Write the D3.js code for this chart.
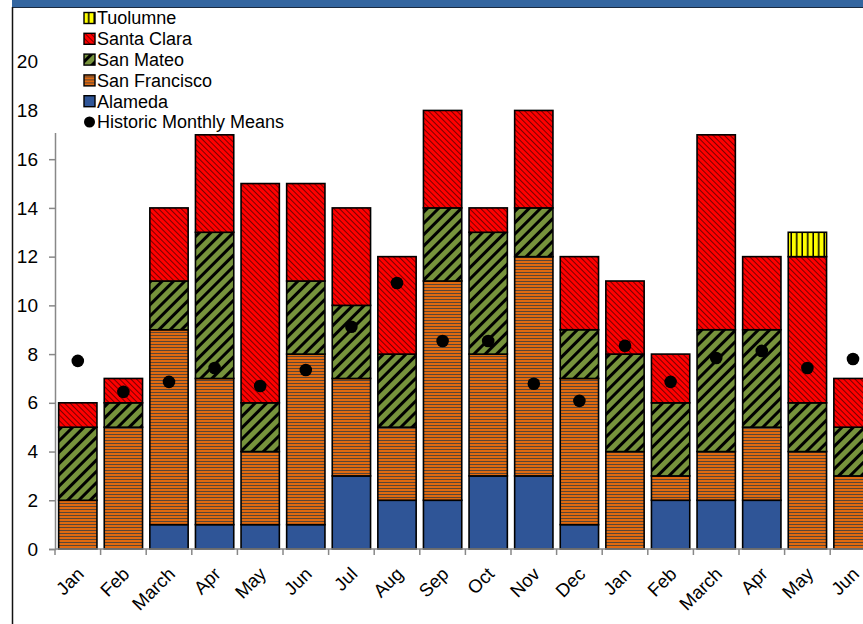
<!DOCTYPE html>
<html>
<head>
<meta charset="utf-8">
<script src="https://cdn.jsdelivr.net/npm/d3@7"></script>
<style>
  body { margin: 0; background: #fff; }
  svg { display: block; font-family: "Liberation Sans", Arial, sans-serif; }
</style>
</head>
<body>
<svg id="chart" width="863" height="624"></svg>
<script>
var months = ['Jan','Feb','March','Apr','May','Jun','Jul','Aug','Sep','Oct','Nov','Dec',
              'Jan','Feb','March','Apr','May','Jun'];
var counties = ['Alameda','San Francisco','San Mateo','Santa Clara','Tuolumne'];
var alameda      = [0,0,1,1,1,1,3,2,2,3,3,1,0,2,2,2,0,0];
var sanFrancisco = [2,5,8,6,3,7,4,3,9,5,9,6,4,1,2,3,4,3];
var sanMateo     = [3,1,2,6,2,3,3,3,3,5,2,2,4,3,5,4,2,2];
var santaClara   = [1,1,3,4,9,4,4,4,4,1,4,3,3,2,8,3,6,2];
var tuolumne     = [0,0,0,0,0,0,0,0,0,0,0,0,0,0,0,0,1,0];
var historicMeans = [7.72,6.45,6.86,7.43,6.69,7.35,9.12,10.92,8.54,8.54,6.78,6.08,
                     8.34,6.86,7.84,8.13,7.43,7.8];
var yTicks = [0,2,4,6,8,10,12,14,16,18,20];

var svg = d3.select('#chart');
var W = 863, H = 624;

// patterns
var defs = svg.append('defs');
var p;
p = defs.append('pattern').attr('id','pSF').attr('patternUnits','userSpaceOnUse')
  .attr('width',6).attr('height',3);
p.append('rect').attr('width',6).attr('height',3).attr('fill','#e06a10');
p.append('rect').attr('y',2).attr('width',6).attr('height',1).attr('fill','#5b4636');

p = defs.append('pattern').attr('id','pSM').attr('patternUnits','userSpaceOnUse')
  .attr('width',8).attr('height',8).attr('patternTransform','rotate(45)');
p.append('rect').attr('width',8).attr('height',8).attr('fill','#77933c');
p.append('rect').attr('width',3).attr('height',8).attr('fill','#000');

p = defs.append('pattern').attr('id','pSC').attr('patternUnits','userSpaceOnUse')
  .attr('width',4).attr('height',4).attr('patternTransform','rotate(-45)');
p.append('rect').attr('width',4).attr('height',4).attr('fill','#ff0000');
p.append('rect').attr('width',1).attr('height',4).attr('fill','#7a0000');

p = defs.append('pattern').attr('id','pT').attr('patternUnits','userSpaceOnUse')
  .attr('width',5.5).attr('height',6);
p.append('rect').attr('width',5.5).attr('height',6).attr('fill','#ffff00');
p.append('rect').attr('x',4).attr('width',1.5).attr('height',6).attr('fill','#000');

var fills = ['#2f5597','url(#pSF)','url(#pSM)','url(#pSC)','url(#pT)'];

// frame
svg.append('rect').attr('x',12).attr('y',0).attr('width',W-12).attr('height',7).attr('fill','#3466a0');
svg.append('line').attr('x1',12).attr('x2',W).attr('y1',7.5).attr('y2',7.5).attr('stroke','#1a2a40').attr('stroke-width',1);
svg.append('line').attr('x1',12.5).attr('x2',12.5).attr('y1',7).attr('y2',H).attr('stroke','#111').attr('stroke-width',1.5);

var x = d3.scaleBand().domain(d3.range(months.length)).range([55, 55 + 45.6*18]).paddingInner(0.16).paddingOuter(0.08);
var y = d3.scaleLinear().domain([0,22]).range([549, 13]);

// y axis
var yAxis = d3.axisLeft(y).tickValues(yTicks).tickSize(6).tickFormat(d3.format('d'));
var gy = svg.append('g').attr('transform','translate(55,0)').call(yAxis);
gy.select('.domain').attr('stroke','#888').attr('stroke-width',1.5);
gy.selectAll('.tick line').attr('stroke','#888').attr('stroke-width',1.5);
gy.selectAll('.tick text').attr('font-size',19).attr('fill','#000').attr('x',-17);

// stacked bars
var rows = months.map(function(m,i){
  return {i:i, Alameda:alameda[i], 'San Francisco':sanFrancisco[i], 'San Mateo':sanMateo[i],
          'Santa Clara':santaClara[i], Tuolumne:tuolumne[i]};
});
var series = d3.stack().keys(counties)(rows);

svg.selectAll('.layer').data(series).enter().append('g').attr('class','layer')
  .attr('fill', function(d,k){ return fills[k]; })
  .selectAll('rect').data(function(d){ return d.filter(function(s){ return s[1]>s[0]; }); })
  .enter().append('rect')
  .attr('x', function(d){ return x(d.data.i); })
  .attr('width', x.bandwidth())
  .attr('y', function(d){ return y(d[1]); })
  .attr('height', function(d){ return y(d[0]) - y(d[1]); })
  .attr('stroke','#000').attr('stroke-width',1.6);

// x axis
var step = x.step();
var gx = svg.append('g').attr('transform','translate(0,549)');
gx.append('line').attr('x1',55).attr('x2',W).attr('stroke','#888').attr('stroke-width',1.5);
gx.selectAll('.xt').data(d3.range(months.length+1)).enter().append('line')
  .attr('x1', function(d){ return 55 + d*step; }).attr('x2', function(d){ return 55 + d*step; })
  .attr('y1',0).attr('y2',6).attr('stroke','#888').attr('stroke-width',1.5);
gx.selectAll('.xl').data(months).enter().append('text')
  .attr('transform', function(d,i){ return 'translate(' + (x(i) + x.bandwidth()/2 - 2) + ',17) rotate(-45)'; })
  .attr('text-anchor','end').attr('dy','0.7em').attr('font-size',18.5).text(function(d){ return d; });

// historic means
svg.selectAll('.mean').data(historicMeans).enter().append('circle')
  .attr('cx', function(d,i){ return x(i) + x.bandwidth()/2; })
  .attr('cy', function(d){ return y(d); })
  .attr('r',6.3).attr('fill','#000');

// legend
svg.append('rect').attr('x',44).attr('y',8).attr('width',280).attr('height',125).attr('fill','#fff');
var legendItems = counties.slice().reverse().map(function(c){ return {name:c, fill:fills[counties.indexOf(c)]}; });
legendItems.push({name:'Historic Monthly Means', dot:true});
var lg = svg.append('g').selectAll('g').data(legendItems).enter().append('g')
  .attr('transform', function(d,i){ return 'translate(84,' + (18 + i*20.8) + ')'; });
lg.filter(function(d){ return !d.dot; }).append('rect')
  .attr('x',0).attr('y',-5.5).attr('width',11).attr('height',11)
  .attr('fill', function(d){ return d.fill; }).attr('stroke','#000').attr('stroke-width',1.4);
lg.filter(function(d){ return d.dot; }).append('circle').attr('cx',5.5).attr('cy',0).attr('r',5.5).attr('fill','#000');
lg.append('text').attr('x',13).attr('dy','0.36em').attr('font-size',18).text(function(d){ return d.name; });
</script>
</body>
</html>
